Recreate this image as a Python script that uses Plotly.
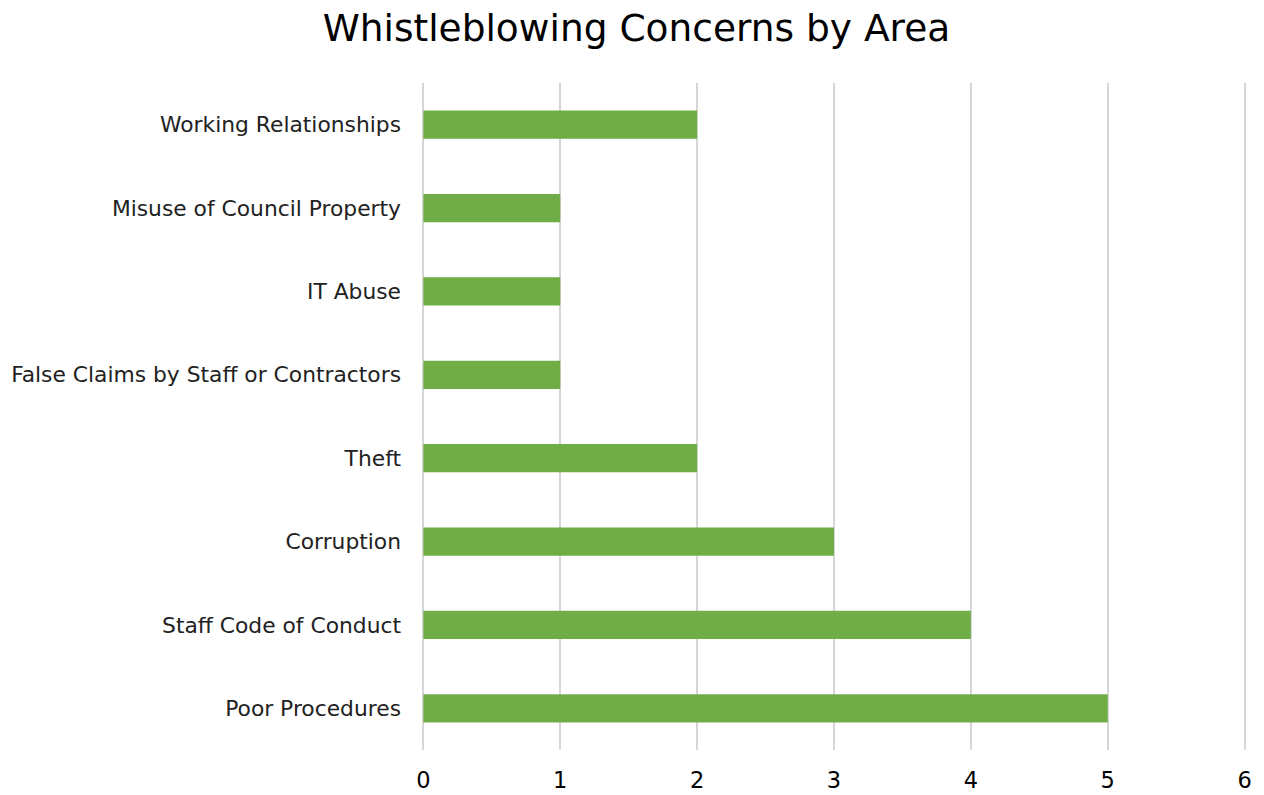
import plotly.graph_objects as go

categories = ["Poor Procedures", "Staff Code of Conduct", "Corruption", "Theft",
              "False Claims by Staff or Contractors", "IT Abuse",
              "Misuse of Council Property", "Working Relationships"]
values = [5, 4, 3, 2, 1, 1, 1, 2]
x_ticks = [0, 1, 2, 3, 4, 5, 6]

fig = go.Figure(go.Bar(
    x=values, y=categories, orientation="h",
    marker=dict(color="#70ad47", line=dict(width=0)),
    width=0.34,
))

fig.update_layout(
    width=1264, height=795,
    paper_bgcolor="white", plot_bgcolor="white",
    margin=dict(l=422, r=18, t=83, b=45),
    title=dict(text="Whistleblowing Concerns by Area", x=0.5035, xanchor="center",
               y=0.965, yanchor="middle",
               font=dict(family="DejaVu Sans", size=37.5, color="#000000")),
    font=dict(family="DejaVu Sans", color="#222222"),
    showlegend=False,
)
fig.update_xaxes(range=[-0.01, 6.01], tickvals=x_ticks, showgrid=True,
                 gridcolor="#d6d6d6", gridwidth=1.6, zeroline=False,
                 showline=False, ticks="", tickfont=dict(size=22.5, color="#000000"),
                 ticklabelstandoff=14, automargin=False)
fig.update_yaxes(showgrid=False, showline=False, ticks="", automargin=False,
                 tickfont=dict(size=21.8, color="#222222"), ticklabelstandoff=20)

fig.write_html("out.html")
